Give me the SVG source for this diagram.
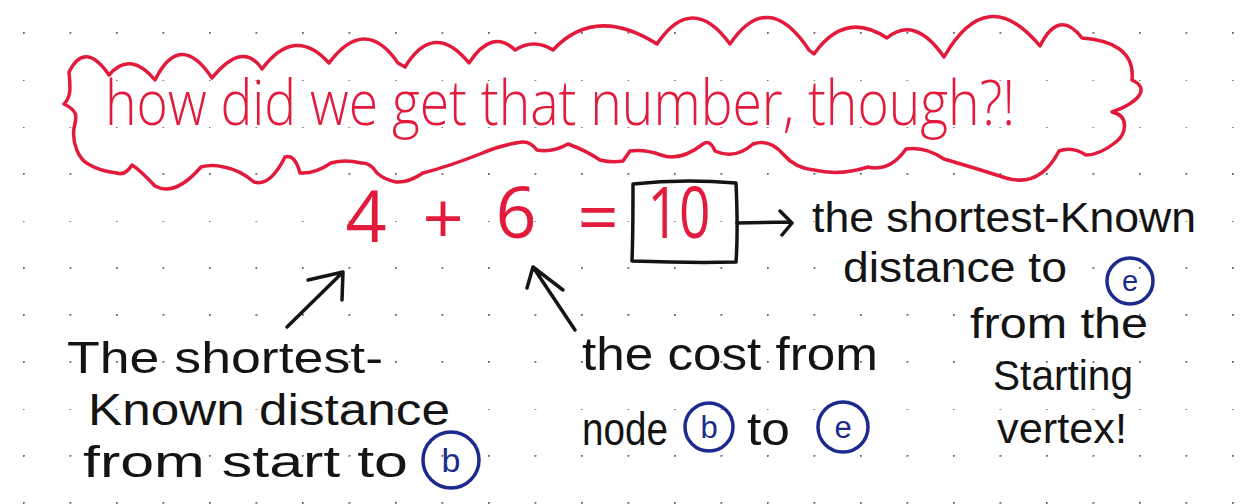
<svg xmlns="http://www.w3.org/2000/svg" width="1248" height="504" viewBox="0 0 1248 504">
<defs>
<pattern id="dots" x="23" y="32" width="46.5" height="47" patternUnits="userSpaceOnUse">
<circle cx="0.8" cy="0.8" r="1.1" fill="#666"/>
</pattern>
<style>
.hand{font-family:"Open Sans","Liberation Sans",sans-serif;font-weight:300}
.lab{font-family:"Liberation Sans",Arial,sans-serif;font-weight:400}
.red{fill:#e21b3c}
.blk{fill:#141414}
.blu{fill:#1c2a8e}
.eq{font-weight:400}
.cl{fill:none;stroke:#e21b3c;stroke-width:3.5;stroke-linecap:round;stroke-linejoin:round}
.ln{fill:none;stroke:#141414;stroke-width:3.5;stroke-linecap:round;stroke-linejoin:round}
.ring{fill:none;stroke:#1c2a8e;stroke-width:3.5}
</style>
</defs>
<rect width="1248" height="504" fill="#ffffff"/>
<rect width="1248" height="504" fill="url(#dots)"/>

<g id="cloud">
<path class="cl" d="M69 72 Q85 40 109 75 Q130 50 155 80 Q180 30 212 78 Q243 40 262 69 Q295 25 329 63 Q365 15 398 63 L405 67 Q434 20 469 63 Q492 28 515 50 Q534 38 553 50 Q595 5 657 44 Q692 -8 730 44 Q768 -12 809 50 L814 54 Q845 10 887 38 Q915 15 944 57 Q987 -18 1040 46 Q1059 8 1082 38 C1110 40 1135 50 1132 80 C1150 88 1140 102 1112 112 C1130 116 1126 134 1116 142 C1106 150 1096 155 1086 155 Q1072 146 1059 151 Q1040 188 1006 178 Q975 168 944 159 Q925 146 906 149 Q890 172 868 167 Q840 176 814 170 Q795 168 784 155 Q770 138 753 144 Q735 160 715 151 Q710 139 703 144 Q680 162 661 155 Q645 149 630 151 L623 161 Q612 163 600 160 Q585 150 568 144 Q552 153 537 150 Q530 141 522 142 Q500 145 480 154 Q450 166 423 173 Q408 183 396 182 Q385 180 377 173 Q370 162 361 163 Q345 159 331 163 Q315 174 300 173 Q295 154 285 157 Q270 187 254 182 Q240 170 224 167 Q212 164 201 167 Q175 197 155 186 Q140 170 132 165 Q125 176 117 173 Q100 171 90 165 C78 160 72 142 74 128 C76 118 80 112 64 104 C72 96 70 85 69 72 Z"/>
<text class="hand red" x="105" y="125" font-size="62" textLength="910" lengthAdjust="spacingAndGlyphs">how did we get that number, though?!</text>
</g>

<g id="equation">
<text class="hand red eq" x="366" y="242" font-size="72" text-anchor="middle">4</text>
<text class="hand red eq" x="443" y="244" font-size="72" text-anchor="middle">+</text>
<text class="hand red eq" x="516" y="238" font-size="72" text-anchor="middle">6</text>
<text class="hand red eq" x="598" y="243" font-size="72" text-anchor="middle">=</text>
</g>

<g id="result">
<path class="ln" d="M633 184 C660 181 700 180 736 183 C737 205 738 235 736 262 C700 263 660 262 632 261 C633 235 633 205 633 184 Z"/>
<text class="hand red eq" x="679" y="238" font-size="72" text-anchor="middle" textLength="63" lengthAdjust="spacingAndGlyphs">10</text>
</g>

<g id="label-start">
<text class="lab blk" x="67" y="373" font-size="44" textLength="316" lengthAdjust="spacingAndGlyphs">The shortest-</text>
<text class="lab blk" x="88" y="425" font-size="44" textLength="362" lengthAdjust="spacingAndGlyphs">Known distance</text>
<text class="lab blk" x="83" y="477" font-size="44" textLength="325" lengthAdjust="spacingAndGlyphs">from start to</text>
<circle class="ring" cx="451" cy="460" r="28"/>
<text class="lab blu" x="451" y="472" font-size="34" text-anchor="middle">b</text>
</g>

<g id="label-cost">
<text class="lab blk" x="582" y="370" font-size="46" textLength="296" lengthAdjust="spacingAndGlyphs">the cost from</text>
<text class="lab blk" x="582" y="445" font-size="46" textLength="86" lengthAdjust="spacingAndGlyphs">node</text>
<circle class="ring" cx="709" cy="427" r="24"/>
<text class="lab blu" x="709" y="438" font-size="31" text-anchor="middle">b</text>
<text class="lab blk" x="747" y="445" font-size="46" textLength="43" lengthAdjust="spacingAndGlyphs">to</text>
<circle class="ring" cx="843" cy="427" r="25"/>
<text class="lab blu" x="843" y="438" font-size="31" text-anchor="middle">e</text>
</g>

<g id="label-result">
<text class="lab blk" x="812" y="232" font-size="42" textLength="384" lengthAdjust="spacingAndGlyphs">the shortest-Known</text>
<text class="lab blk" x="843" y="282" font-size="42" textLength="224" lengthAdjust="spacingAndGlyphs">distance to</text>
<circle class="ring" cx="1130" cy="281" r="23"/>
<text class="lab blu" x="1130" y="291" font-size="29" text-anchor="middle">e</text>
<text class="lab blk" x="970" y="338" font-size="42" textLength="178" lengthAdjust="spacingAndGlyphs">from the</text>
<text class="lab blk" x="993" y="390" font-size="42" textLength="140" lengthAdjust="spacingAndGlyphs">Starting</text>
<text class="lab blk" x="997" y="443" font-size="42" textLength="130" lengthAdjust="spacingAndGlyphs">vertex!</text>
</g>

<g id="connectors">
<path class="ln" d="M287 327 L343 272 M308 280 L343 272 L342 300"/>
<path class="ln" d="M575 330 L533 267 M527 288 L533 267 L563 290"/>
<path class="ln" d="M737 223 L791 222 M780 211 L792 223 L782 235"/>
</g>
</svg>
